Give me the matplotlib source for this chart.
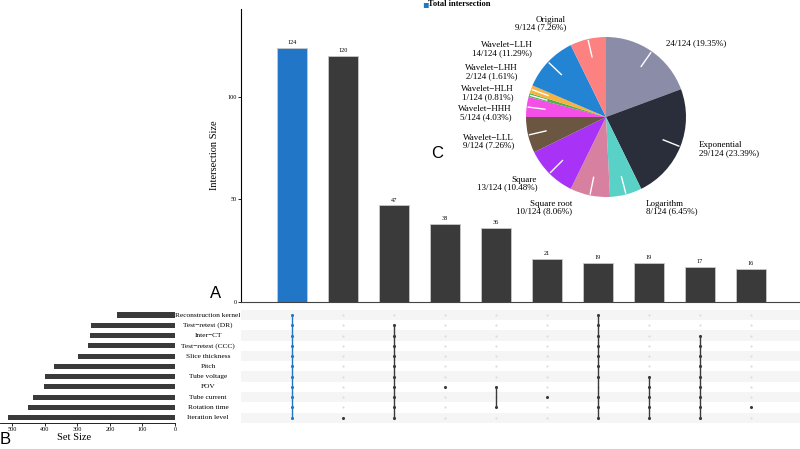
import numpy as np
import matplotlib.pyplot as plt

plt.rcParams['font.family'] = ['Liberation Serif', 'DejaVu Serif']

# --- data ---
sets = ["Reconstruction kernel", "Test\u2212retest (DR)", "Inter\u2212CT", "Test\u2212retest (CCC)",
        "Slice thickness", "Pitch", "Tube voltage", "FOV", "Tube current",
        "Rotation time", "Iteration level"]
set_sizes = [178, 259, 262, 267, 299, 372, 400, 404, 436, 451, 514]

inter_sizes = [124, 120, 47, 38, 36, 21, 19, 19, 17, 16]
# row indices (0 = top row) that belong to each intersection
inter_members = [
    list(range(0, 11)),
    [10],
    list(range(1, 11)),
    [7],
    [7, 9],
    [8],
    [0, 1, 2, 3, 4, 5, 6, 8, 9, 10],
    [6, 7, 8, 9, 10],
    list(range(2, 11)),
    [9],
]

pie_names = ["", "Exponential", "Logarithm", "Square root", "Square", "Wavelet\u2212LLL",
             "Wavelet\u2212HHH", "Wavelet\u2212HLH", "Wavelet\u2212LHH", "Wavelet\u2212LLH", "Original"]
pie_counts = [24, 29, 8, 10, 13, 9, 5, 1, 2, 14, 9]
pie_colors = ['#8a8ca8', '#2a2d3a', '#5ad1c6', '#d8809f', '#a833f7', '#6b5642',
              '#f44fe6', '#4caf50', '#f6b342', '#2384d4', '#fc8181']
# label anchor (x, y, ha) in pie radius units
pie_label_pos = [(0.75, 0.92, 'left'), (1.16, -0.40, 'left'), (0.50, -1.13, 'left'),
                 (-0.42, -1.13, 'right'), (-0.86, -0.83, 'right'), (-1.15, -0.31, 'right'),
                 (-1.18, 0.05, 'right'), (-1.16, 0.30, 'right'), (-1.11, 0.56, 'right'),
                 (-0.92, 0.85, 'right'), (-0.50, 1.17, 'right')]

blue = '#2176c7'
dark = '#3a3a3a'
W, H = 800, 449

fig = plt.figure(figsize=(8, 4.49), dpi=100)

def px_axes(x0, y0, x1, y1):
    return fig.add_axes([x0 / W, 1 - y1 / H, (x1 - x0) / W, (y1 - y0) / H])

# --- Intersection bars ---
ax = px_axes(241, 9.3, 800, 301.5)
x = np.arange(len(inter_sizes))
colors = [blue] + [dark] * (len(inter_sizes) - 1)
ax.bar(x, inter_sizes, width=0.59, color=colors, edgecolor='#c8c8c8', linewidth=0.6)
for xi, v in zip(x, inter_sizes):
    ax.text(xi, v + 1.2, str(v), ha='center', va='bottom', fontsize=4.5)
ax.set_xlim(-1, 9.96)
ax.set_ylim(0, 142.8)
ax.set_xticks([])
ax.set_yticks([0, 50, 100])
ax.tick_params(axis='y', labelsize=4.5, length=2, width=0.6, pad=1)
for s in ['top', 'right']:
    ax.spines[s].set_visible(False)
ax.spines['left'].set_linewidth(0.8)
ax.spines['bottom'].set_linewidth(0.8)
ax.spines['bottom'].set_color('#444444')
ax.set_ylabel("Intersection Size", fontsize=7.5, labelpad=6)

# --- Matrix ---
axm = px_axes(241, 309.9, 800, 422.8)
axm.set_xlim(-1, 9.96)
axm.set_ylim(10.5, -0.5)
for r in range(len(sets)):
    if r % 2 == 0:
        axm.axhspan(r - 0.5, r + 0.5, color='#f5f5f5', lw=0, zorder=0)
for ci, members in enumerate(inter_members):
    c = blue if ci == 0 else dark
    inactive = [r for r in range(len(sets)) if r not in members]
    axm.scatter([ci] * len(inactive), inactive, s=2.5, color='#dcdcdc', lw=0, zorder=2)
    if len(members) > 1:
        axm.plot([ci, ci], [min(members), max(members)], color=c, lw=1.0, zorder=3)
    axm.scatter([ci] * len(members), members, s=5, color=c, lw=0, zorder=4)
axm.axis('off')

# --- Set sizes ---
axs = px_axes(0, 309.9, 175, 422.8)
rows = np.arange(len(sets))
axs.barh(rows, set_sizes, height=0.5, color=dark)
axs.set_ylim(10.5, -0.5)
axs.set_xlim(538, 0)
axs.set_yticks([])
axs.set_xticks([500, 400, 300, 200, 100, 0])
axs.tick_params(axis='x', labelsize=4.5, length=2, width=0.6, pad=1)
for s in ['top', 'right', 'left']:
    axs.spines[s].set_visible(False)
axs.spines['bottom'].set_linewidth(0.6)
for r, name in enumerate(sets):
    axs.text(208 / 175, r, name, transform=axs.get_yaxis_transform(),
             ha='center', va='center', fontsize=5.3)
fig.text(74 / W, 1 - 438 / H, "Set Size", ha='center', va='center', fontsize=7.5)

# --- Pie ---
R = 80
cx, cy = 606, 117
axp = px_axes(cx - 1.5 * R, cy - 1.5 * R, cx + 1.5 * R, cy + 1.5 * R)
total = sum(pie_counts)
wedges, _ = axp.pie(pie_counts, colors=pie_colors, startangle=90, counterclock=False,
                    radius=1.0, wedgeprops=dict(linewidth=0))
axp.set_xlim(-1.5, 1.5)
axp.set_ylim(-1.5, 1.5)
axp.set_aspect('equal')
axp.axis('off')
for w in wedges:
    ang = np.deg2rad((w.theta1 + w.theta2) / 2)
    axp.plot([0.77 * np.cos(ang), 0.98 * np.cos(ang)],
             [0.77 * np.sin(ang), 0.98 * np.sin(ang)], color='white', lw=1.0)
for name, cnt, (lx, ly, ha) in zip(pie_names, pie_counts, pie_label_pos):
    frac = f"{cnt}/{total} ({cnt / total * 100:.2f}%)"
    label = f"{name}\n{frac}" if name else frac
    axp.text(lx, ly, label, ha=ha, va='center', fontsize=6.5, linespacing=0.95,
             multialignment=ha)

# legend
fig.text(425 / W, 1 - 4.5 / H, "\u25aa", color=blue, ha='center', va='center', fontsize=7,
         family='DejaVu Sans')
fig.text(428 / W, 1 - 4.5 / H, "Total intersection", ha='left', va='center', fontsize=6,
         fontweight='bold')

# panel letters
for lab, px, py in [("A", 216, 294), ("B", 5, 440), ("C", 437, 154)]:
    fig.text(px / W, 1 - py / H, lab, ha='center', va='center', fontsize=12,
             family='Liberation Sans')

fig.savefig("out.png", dpi=100)
